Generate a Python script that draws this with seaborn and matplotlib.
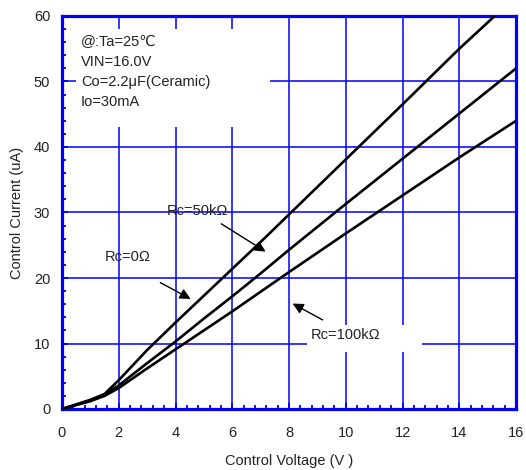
import matplotlib
matplotlib.use("Agg")
import matplotlib.pyplot as plt
from matplotlib.ticker import MultipleLocator
from matplotlib.patches import Rectangle
import seaborn as sns
import pandas as pd

# Data
voltage_rc0 = [0, 1.0, 1.5, 2.0, 3.0, 4.0, 5.0, 6.0, 7.0, 8.0, 10.0, 12.0, 14.0, 15.25]
current_rc0 = [0, 1.4, 2.3, 4.4, 9.0, 13.2, 17.3, 21.4, 25.5, 29.7, 38.1, 46.5, 55.0, 60.0]

voltage_rc50 = [0, 1.0, 1.5, 2.0, 3.0, 4.0, 5.0, 6.0, 7.0, 8.0, 10.0, 12.0, 14.0, 16.0]
current_rc50 = [0, 1.3, 2.2, 3.6, 7.0, 10.3, 13.8, 17.2, 20.7, 24.3, 31.3, 38.2, 45.1, 52.0]

voltage_rc100 = [0, 1.0, 1.5, 2.0, 3.0, 4.0, 5.0, 6.0, 7.0, 8.0, 10.0, 12.0, 14.0, 16.0]
current_rc100 = [0, 1.2, 2.0, 3.2, 6.2, 9.1, 12.0, 14.9, 17.9, 20.9, 26.8, 32.6, 38.4, 44.0]

series_names = ["Rc=0Ω", "Rc=50kΩ", "Rc=100kΩ"]

conditions = ["@:Ta=25\u2103", "VIN=16.0V", "Co=2.2\u03bcF(Ceramic)", "Io=30mA"]

x_ticks = [0, 2, 4, 6, 8, 10, 12, 14, 16]
y_ticks = [0, 10, 20, 30, 40, 50, 60]

rows = []
for name, xs, ys in zip(series_names,
                        [voltage_rc0, voltage_rc50, voltage_rc100],
                        [current_rc0, current_rc50, current_rc100]):
    for xv, yv in zip(xs, ys):
        rows.append({"V": xv, "I": yv, "series": name})
df = pd.DataFrame(rows)

sns.set_style("white")
plt.rcParams["font.family"] = ["Liberation Sans", "DejaVu Sans"]

FS = 10.5
TXT = "#222222"

fig = plt.figure(figsize=(5.26, 4.70), dpi=100)
ax = fig.add_axes([62/526, 61/470, 454/526, 393/470])

blue = "#0000ff"
ax.set_xlim(0, 16)
ax.set_ylim(0, 60)
ax.set_xticks(x_ticks)
ax.set_yticks(y_ticks)
ax.xaxis.set_minor_locator(MultipleLocator(0.4))
ax.yaxis.set_minor_locator(MultipleLocator(2))
ax.grid(True, which="major", color=blue, linewidth=1.1, zorder=0)
ax.set_axisbelow(True)

sns.lineplot(data=df, x="V", y="I", units="series", estimator=None,
             color="black", linewidth=1.9, ax=ax, legend=False, zorder=3)

for s in ax.spines.values():
    s.set_color(blue)
    s.set_linewidth(2.3)
    s.set_visible(True)

ax.tick_params(axis="both", which="major", direction="in", length=4, width=1.3,
               color=blue, labelsize=FS, labelcolor=TXT)
ax.tick_params(axis="x", which="major", pad=12)
ax.tick_params(axis="y", which="major", pad=8.5)
ax.tick_params(axis="both", which="minor", direction="in", length=3, width=1.3,
               color=blue, left=True, bottom=True)
ax.tick_params(left=True, bottom=True)

ax.set_xlabel("Control Voltage (V )", fontsize=FS, labelpad=10, color=TXT)
ax.set_ylabel("Control Current (uA)", fontsize=FS, labelpad=7, color=TXT)

# White area behind the condition block (hides the grid there)
ax.add_patch(Rectangle((0.49, 43.1), 6.84, 14.9, facecolor="white",
                       edgecolor="none", zorder=1))
for i, line in enumerate(conditions):
    ax.text(0.67, 56.0 - 3.05 * i, line, fontsize=FS, va="center", ha="left",
            color=TXT, zorder=4)

# Series labels and arrows
ax.text(2.33, 23.2, series_names[0], fontsize=FS, ha="center", va="center",
        color=TXT, zorder=4)
ax.annotate("", xy=(4.62, 16.6), xytext=(3.38, 19.5),
            arrowprops=dict(arrowstyle="-|>", color="black", lw=1.0,
                            mutation_scale=16), zorder=4)

ax.text(4.76, 30.2, series_names[1], fontsize=FS, ha="center", va="center",
        color=TXT, zorder=4)
ax.annotate("", xy=(7.26, 23.8), xytext=(5.53, 28.5),
            arrowprops=dict(arrowstyle="-|>", color="black", lw=1.0,
                            mutation_scale=16), zorder=4)

ax.add_patch(Rectangle((8.63, 8.7), 4.06, 4.1, facecolor="white",
                       edgecolor="none", zorder=1))
ax.text(10.0, 11.3, series_names[2], fontsize=FS, ha="center", va="center",
        color=TXT, zorder=4)
ax.annotate("", xy=(8.04, 16.3), xytext=(9.27, 13.4),
            arrowprops=dict(arrowstyle="-|>", color="black", lw=1.0,
                            mutation_scale=16), zorder=4)

fig.savefig("out.png", dpi=100)
